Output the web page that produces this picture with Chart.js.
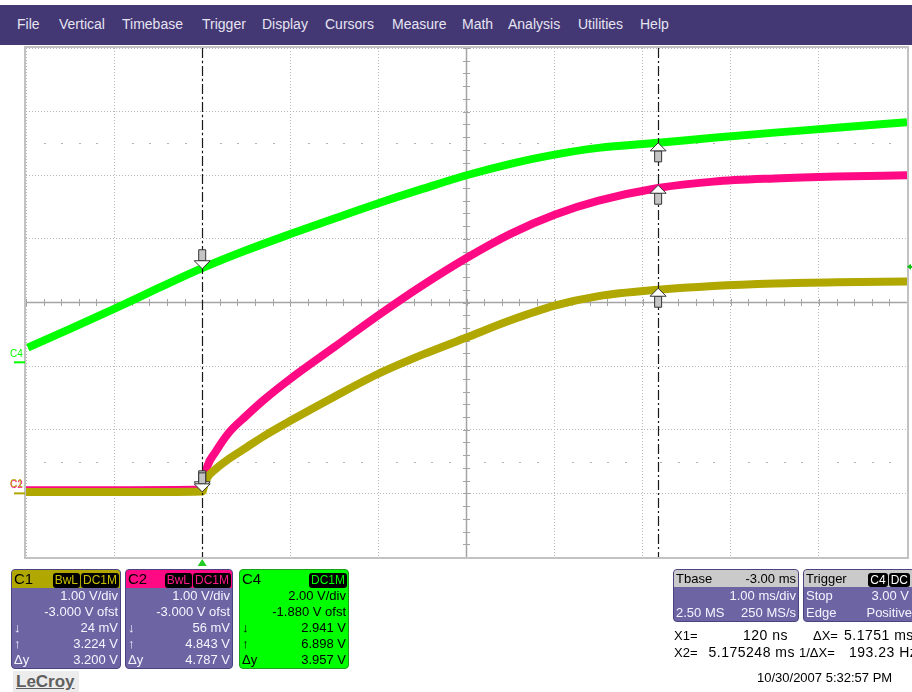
<!DOCTYPE html>
<html>
<head>
<meta charset="utf-8">
<script src="https://cdn.jsdelivr.net/npm/chart.js@4.4.1/dist/chart.umd.min.js"></script>
<style>
  html, body { margin:0; padding:0; background:#fff; width:912px; height:692px; overflow:hidden;
               font-family:"Liberation Sans", Arial, sans-serif; }
  #scope { position:absolute; left:0; top:0; }
  .menu { position:absolute; left:0; top:5px; width:912px; height:40px; background:#433774; z-index:2; }
  .menu span { position:absolute; top:11px; font-size:14px; color:#e6e4f2; }
  .box { position:absolute; box-sizing:border-box; background:#6d65a3; border:1px solid #4b4380;
         border-radius:4px; color:#f4f4ff; font-size:13px; overflow:hidden; z-index:2; }
  .hdr { position:relative; height:18px; line-height:18px; }
  .row { position:relative; height:16px; line-height:16px; }
  .l { position:absolute; left:2px; }
  .r { position:absolute; right:2px; }
  .nm { font-size:15px; }
  .badges { position:absolute; right:1px; top:1px; height:16px; }
  .badge { display:inline-block; background:#000; border-radius:3px; font-size:12px; font-weight:normal;
           height:15px; line-height:15px; padding:0 2px; margin-left:1px; }
  .txt { position:absolute; font-size:13px; color:#000; white-space:nowrap; z-index:2; }
  .num { font-size:14px; letter-spacing:0.5px; }
  .logo { position:absolute; left:13px; top:671px; width:66px; height:21px; background:#ececec;
          font-size:17px; font-weight:bold; color:#5e5e5e; text-decoration:underline; line-height:21px;
          text-indent:3px; z-index:2; }
</style>
</head>
<body>
<canvas id="scope" width="912" height="692"></canvas>

<div class="menu">
  <span style="left:17px">File</span>
  <span style="left:59px">Vertical</span>
  <span style="left:122px">Timebase</span>
  <span style="left:202px">Trigger</span>
  <span style="left:262px">Display</span>
  <span style="left:325px">Cursors</span>
  <span style="left:392px">Measure</span>
  <span style="left:462px">Math</span>
  <span style="left:508px">Analysis</span>
  <span style="left:578px">Utilities</span>
  <span style="left:640px">Help</span>
</div>

<div class="box" style="left:11px;top:569px;width:110px;height:100px;">
  <div class="hdr" style="background:#b0a800;color:#000">
    <span class="l nm">C1</span>
    <span class="badges"><span class="badge" style="color:#c8c000">BwL</span><span class="badge" style="color:#c8c000">DC1M</span></span>
  </div>
  <div class="row"><span class="r">1.00 V/div</span></div>
  <div class="row"><span class="r">-3.000 V ofst</span></div>
  <div class="row"><span class="l">↓</span><span class="r">24 mV</span></div>
  <div class="row"><span class="l">↑</span><span class="r">3.224 V</span></div>
  <div class="row"><span class="l">Δy</span><span class="r">3.200 V</span></div>
</div>

<div class="box" style="left:125px;top:569px;width:108px;height:100px;">
  <div class="hdr" style="background:#ff0a84;color:#000">
    <span class="l nm">C2</span>
    <span class="badges"><span class="badge" style="color:#ff1a8c">BwL</span><span class="badge" style="color:#ff1a8c">DC1M</span></span>
  </div>
  <div class="row"><span class="r">1.00 V/div</span></div>
  <div class="row"><span class="r">-3.000 V ofst</span></div>
  <div class="row"><span class="l">↓</span><span class="r">56 mV</span></div>
  <div class="row"><span class="l">↑</span><span class="r">4.843 V</span></div>
  <div class="row"><span class="l">Δy</span><span class="r">4.787 V</span></div>
</div>

<div class="box" style="left:239px;top:569px;width:110px;height:100px;background:#00ff00;border-color:#1aa01a;color:#000;">
  <div class="hdr">
    <span class="l nm">C4</span>
    <span class="badges"><span class="badge" style="color:#00ff00">DC1M</span></span>
  </div>
  <div class="row"><span class="r">2.00 V/div</span></div>
  <div class="row"><span class="r">-1.880 V ofst</span></div>
  <div class="row"><span class="l">↓</span><span class="r">2.941 V</span></div>
  <div class="row"><span class="l">↑</span><span class="r">6.898 V</span></div>
  <div class="row"><span class="l">Δy</span><span class="r">3.957 V</span></div>
</div>

<div class="box" style="left:673px;top:569px;width:126px;height:53px;">
  <div class="hdr" style="background:#cacaca;color:#000;height:17px;line-height:17px">
    <span class="l">Tbase</span><span class="r">-3.00 ms</span>
  </div>
  <div class="row" style="height:17px;line-height:17px"><span class="r">1.00 ms/div</span></div>
  <div class="row" style="height:17px;line-height:17px"><span class="l">2.50 MS</span><span class="r">250 MS/s</span></div>
</div>

<div class="box" style="left:803px;top:569px;width:112px;height:53px;">
  <div class="hdr" style="background:#cacaca;color:#000;height:17px;line-height:17px">
    <span class="l">Trigger</span>
    <span class="badges" style="right:4px;top:1px"><span class="badge" style="color:#fff;height:14px;line-height:14px">C4</span><span class="badge" style="color:#fff;height:14px;line-height:14px">DC</span></span>
  </div>
  <div class="row" style="height:17px;line-height:17px"><span class="l">Stop</span><span class="r" style="right:5px">3.00 V</span></div>
  <div class="row" style="height:17px;line-height:17px"><span class="l">Edge</span><span class="r">Positive</span></div>
</div>

<span class="txt" style="left:674px;top:628px">X1=</span>
<span class="txt num" style="right:124px;top:627px">120 ns</span>
<span class="txt" style="left:813px;top:628px">ΔX=</span>
<span class="txt num" style="left:844px;top:627px">5.1751 ms</span>
<span class="txt" style="left:674px;top:645px">X2=</span>
<span class="txt num" style="right:117px;top:644px">5.175248 ms</span>
<span class="txt" style="left:799px;top:645px">1/ΔX=</span>
<span class="txt num" style="left:849px;top:644px">193.23 Hz</span>
<span class="txt" style="left:757px;top:670px">10/30/2007 5:32:57 PM</span>
<div class="logo">LeCroy</div>

<script>
// time axis in ms, volts per channel
const c1Time  = [-2, -1, 0, 0.03, 0.06, 0.15, 0.3, 0.5, 0.7, 1.0, 1.5, 2.0, 2.5, 3.0, 3.5, 4.0, 4.5, 5.175, 5.8, 6.5, 7.2, 8.0];
const c1Volts = [0.02, 0.02, 0.03, 0.15, 0.25, 0.38, 0.54, 0.72, 0.9, 1.14, 1.52, 1.88, 2.18, 2.45, 2.72, 2.95, 3.1, 3.2, 3.26, 3.3, 3.32, 3.33];

const c2Time  = [-2, -1, 0, 0.03, 0.06, 0.15, 0.3, 0.5, 0.7, 1.0, 1.5, 2.0, 2.5, 3.0, 3.5, 4.0, 4.5, 5.175, 5.8, 6.5, 7.2, 8.0];
const c2Volts = [0.05, 0.05, 0.06, 0.25, 0.43, 0.65, 0.95, 1.22, 1.47, 1.8, 2.3, 2.8, 3.27, 3.7, 4.08, 4.38, 4.6, 4.8, 4.9, 4.95, 4.98, 5.0];

const c4Time  = [-1.98, -1.5, -1.0, -0.5, 0, 0.5, 1.0, 1.5, 2.0, 2.5, 3.0, 3.5, 4.0, 4.5, 5.175, 5.8, 6.5, 7.2, 8.0];
const c4Volts = [0.46, 1.05, 1.68, 2.33, 2.96, 3.52, 4.03, 4.52, 5.0, 5.45, 5.88, 6.24, 6.53, 6.74, 6.9, 7.06, 7.22, 7.37, 7.55];

// cursors (ms) and the values read at them: [C1, C2, C4]
const cursorX = [0.00012, 5.175248];
const atX1 = [0.024, 0.056, 2.941];
const atX2 = [3.224, 4.843, 6.898];
const trigLevel = 3.00;   // C4

const olive = '#b0a800', pink = '#ff0a84', green = '#00ff00';

function pts(t, v) { return t.map((x, i) => ({ x: x, y: v[i] })); }

function arrow(ctx, x, y, down) {
  const s = down ? 1 : -1;
  ctx.save();
  ctx.lineWidth = 1;
  ctx.strokeStyle = '#333';
  ctx.fillStyle = '#c4c4c4';
  ctx.beginPath();
  ctx.rect(x - 3.5, down ? y - 19 : y + 8, 7, 11);
  ctx.fill(); ctx.stroke();
  ctx.fillStyle = '#fff';
  ctx.beginPath();
  ctx.moveTo(x, y);
  ctx.lineTo(x - 8, y - 8 * s);
  ctx.lineTo(x + 8, y - 8 * s);
  ctx.closePath();
  ctx.fill(); ctx.stroke();
  ctx.restore();
}

const graticule = {
  id: 'graticule',
  beforeDatasetsDraw(chart) {
    const { ctx, chartArea: a, scales: { x, y } } = chart;
    const xc = x.getPixelForValue(3), yc = y.getPixelForValue(3);
    ctx.save();
    ctx.strokeStyle = '#a4a4a4';
    ctx.lineWidth = 1.5;
    ctx.beginPath();
    ctx.moveTo(a.left, yc); ctx.lineTo(a.right, yc);
    ctx.moveTo(xc, a.top); ctx.lineTo(xc, a.bottom);
    ctx.stroke();
    ctx.lineWidth = 1;
    ctx.beginPath();
    for (let v = -2; v <= 8.001; v += 0.2) {
      const px = Math.round(x.getPixelForValue(v)) + 0.5;
      ctx.moveTo(px, yc - 3.5); ctx.lineTo(px, yc + 3.5);
    }
    for (let v = -1; v <= 7.001; v += 0.2) {
      const py = Math.round(y.getPixelForValue(v)) + 0.5;
      ctx.moveTo(xc - 3.5, py); ctx.lineTo(xc + 3.5, py);
    }
    ctx.stroke();
    ctx.fillStyle = '#b4b4b4';
    [0.5, 5.5].forEach(row => {
      const py = Math.round(y.getPixelForValue(row));
      for (let v = -2; v <= 8.001; v += 0.2) {
        if (Math.abs(v - Math.round(v)) < 0.01) continue;
        ctx.fillRect(Math.round(x.getPixelForValue(v)), py, 2, 1);
      }
    });
    ctx.restore();
  },
  afterDraw(chart) {
    const { ctx, chartArea: a, scales: { x, y, y4 } } = chart;
    ctx.save();
    // frame
    ctx.strokeStyle = '#c2c2c2';
    ctx.lineWidth = 2;
    ctx.strokeRect(a.left - 1, a.top - 1, a.right - a.left + 2, a.bottom - a.top + 2);
    // cursors
    ctx.strokeStyle = '#1a1a1a';
    ctx.lineWidth = 1.2;
    ctx.setLineDash([10, 3, 2, 3]);
    cursorX.forEach(t => {
      const px = Math.round(x.getPixelForValue(t)) + 0.5;
      ctx.beginPath(); ctx.moveTo(px, a.top); ctx.lineTo(px, a.bottom); ctx.stroke();
    });
    ctx.setLineDash([]);
    const axes = [y, y, y4];
    [1, 0, 2].forEach(i => {
      arrow(ctx, x.getPixelForValue(cursorX[0]), axes[i].getPixelForValue(atX1[i]), true);
      arrow(ctx, x.getPixelForValue(cursorX[1]), axes[i].getPixelForValue(atX2[i]), false);
    });
    // channel ground markers
    ctx.font = '10px "Liberation Sans", Arial';
    const g4 = y4.getPixelForValue(0), g1 = y.getPixelForValue(0);
    ctx.fillStyle = green; ctx.fillText('C4', 10, g4 - 5);
    ctx.fillRect(14, g4 - 1, 11, 2);
    ctx.fillStyle = pink; ctx.fillText('C2', 10, g1 - 5);
    ctx.fillStyle = olive; ctx.fillText('C1', 10, g1 - 6);
    ctx.fillRect(14, g1 - 1, 11, 2);
    // trigger level (right) and trigger time (bottom)
    const tl = y4.getPixelForValue(trigLevel);
    ctx.fillStyle = '#10c010';
    ctx.fillRect(a.right + 2, tl - 1, 4, 2);
    ctx.beginPath(); ctx.moveTo(a.right, tl); ctx.lineTo(a.right + 4, tl - 3); ctx.lineTo(a.right + 4, tl + 3); ctx.fill();
    const tx = x.getPixelForValue(0);
    ctx.fillStyle = '#22cc22';
    ctx.beginPath(); ctx.moveTo(tx, a.bottom + 2); ctx.lineTo(tx - 4.5, a.bottom + 9); ctx.lineTo(tx + 4.5, a.bottom + 9); ctx.fill();
    ctx.restore();
  }
};

const gridColor = ctx => (ctx.tick && ctx.tick.value === 3) ? 'rgba(0,0,0,0)' : '#b8b8b8';

new Chart(document.getElementById('scope'), {
  type: 'line',
  data: {
    datasets: [
      { label: 'C1', data: pts(c1Time, c1Volts), yAxisID: 'y', borderColor: olive, order: 1 },
      { label: 'C2', data: pts(c2Time, c2Volts), yAxisID: 'y', borderColor: pink, order: 2 },
      { label: 'C4', data: pts(c4Time, c4Volts), yAxisID: 'y4', borderColor: green, order: 3 }
    ]
  },
  options: {
    responsive: false,
    animation: false,
    devicePixelRatio: 1,
    layout: { padding: { left: 26, top: 48, right: 5, bottom: 135 } },
    plugins: { legend: { display: false }, tooltip: { enabled: false } },
    elements: {
      point: { radius: 0 },
      line: { borderWidth: 8, cubicInterpolationMode: 'monotone', borderCapStyle: 'butt' }
    },
    scales: {
      x: {
        type: 'linear', min: -2, max: 8,
        ticks: { display: false, stepSize: 1 },
        grid: { color: gridColor, lineWidth: 1, drawTicks: false },
        border: { display: false, dash: [1, 2] }
      },
      y: {
        type: 'linear', min: -1, max: 7,
        ticks: { display: false, stepSize: 1 },
        grid: { color: gridColor, lineWidth: 1, drawTicks: false },
        border: { display: false, dash: [1, 2] }
      },
      y4: { type: 'linear', display: false, min: -6.12, max: 9.88 }
    }
  },
  plugins: [graticule]
});
</script>
</body>
</html>
